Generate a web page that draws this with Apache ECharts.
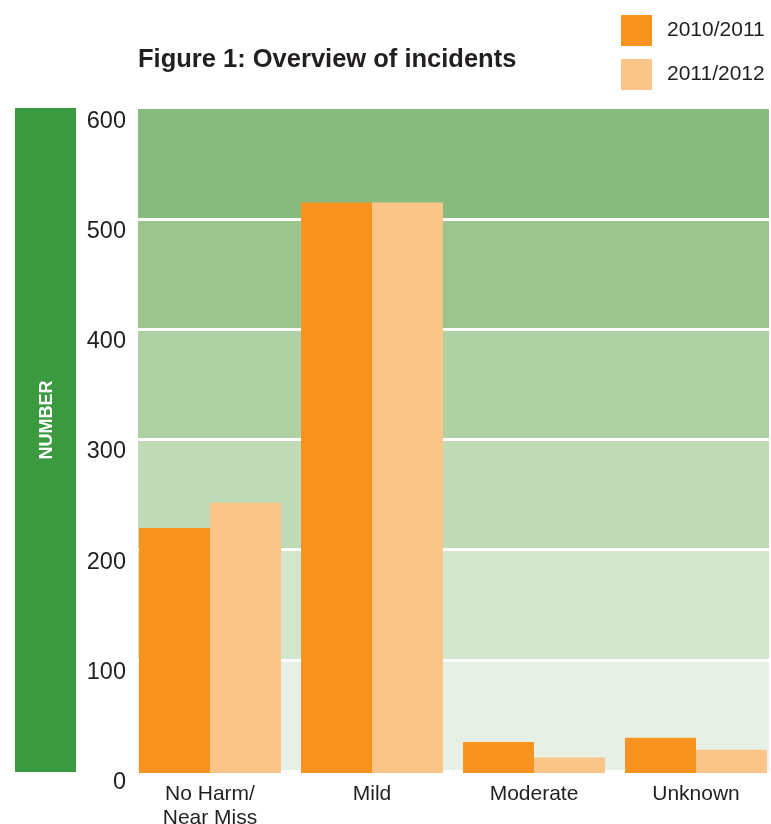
<!DOCTYPE html>
<html>
<head>
<meta charset="utf-8">
<script src="https://cdn.jsdelivr.net/npm/echarts@6/dist/echarts.min.js"></script>
<style>
  html, body { margin: 0; padding: 0; background: #ffffff; }
  #chart { width: 771px; height: 824px; }
</style>
</head>
<body>
<div id="chart"></div>
<script>
// Incident counts by severity, two reporting years
const categories = ['No Harm/\nNear Miss', 'Mild', 'Moderate', 'Unknown'];
const seriesNames = ['2010/2011', '2011/2012'];
const values2010 = [222, 517, 28, 32];
const values2011 = [245, 517, 14, 21];
const yTicks = [0, 100, 200, 300, 400, 500, 600];

// Background band shades, from the 0–100 band upward
const bandColors = ['#e6f0e4', '#d3e5cd', '#c1dbb8', '#afd1a3', '#9cc48e', '#88b97d'];

const FONT = '"Liberation Sans", Arial, Helvetica, sans-serif';
const TEXT = '#231f20';

const chart = echarts.init(document.getElementById('chart'), null, { renderer: 'canvas' });

chart.setOption({
  animation: false,
  backgroundColor: '#ffffff',
  textStyle: { fontFamily: FONT },
  title: {
    text: 'Figure 1: Overview of incidents',
    left: 138,
    top: 47,
    padding: 0,
    textStyle: { fontFamily: FONT, fontSize: 25.5, fontWeight: 'bold', color: TEXT }
  },
  legend: {
    orient: 'vertical',
    left: 621,
    top: 15,
    padding: 0,
    itemWidth: 31,
    itemHeight: 31,
    itemGap: 13,
    icon: 'rect',
    data: seriesNames,
    textStyle: { fontFamily: FONT, fontSize: 21, color: TEXT, padding: [0, 0, 0, 10] }
  },
  graphic: [
    {
      type: 'rect',
      left: 15,
      top: 108,
      shape: { width: 61, height: 664 },
      style: { fill: '#3b9a3f' },
      z: 0
    },
    {
      type: 'text',
      x: 47,
      y: 420,
      rotation: Math.PI / 2,
      style: {
        text: 'NUMBER',
        fill: '#ffffff',
        font: 'bold 18px ' + FONT,
        align: 'center',
        verticalAlign: 'middle'
      },
      z: 1
    }
  ],
  grid: [
    // shaded value bands with the y scale
    { left: 138, right: 2, top: 109, bottom: 54, outerBoundsMode: 'none', containLabel: false },
    // bar groups
    { left: 129, width: 648, top: 111, bottom: 51, outerBoundsMode: 'none', containLabel: false }
  ],
  xAxis: [
    {
      gridIndex: 0, type: 'value', min: 0, max: 1, show: false
    },
    {
      gridIndex: 1,
      type: 'category',
      data: categories,
      axisLine: { show: false },
      axisTick: { show: false },
      axisLabel: {
        margin: 9,
        fontFamily: FONT,
        fontSize: 21,
        lineHeight: 24,
        color: TEXT,
        verticalAlign: 'top'
      }
    }
  ],
  yAxis: [
    {
      gridIndex: 0,
      type: 'value',
      min: yTicks[0],
      max: yTicks[yTicks.length - 1],
      interval: 100,
      axisLine: { show: false },
      axisTick: { show: false },
      axisLabel: {
        margin: 12,
        fontFamily: FONT,
        fontSize: 23.5,
        lineHeight: 23,
        color: TEXT,
        verticalAlign: 'top',
        padding: [1, 0, 0, 0]
      },
      splitArea: { show: true, areaStyle: { color: bandColors, opacity: 1 } },
      splitLine: {
        show: true,
        showMinLine: false,
        showMaxLine: false,
        lineStyle: { color: '#ffffff', width: 3 }
      }
    },
    {
      gridIndex: 1,
      type: 'value',
      min: 0,
      max: 600,
      interval: 100,
      show: false,
      splitLine: { show: false }
    }
  ],
  series: [
    {
      name: seriesNames[0],
      type: 'bar',
      xAxisIndex: 1,
      yAxisIndex: 1,
      data: values2010,
      barGap: '0%',
      barCategoryGap: '12.35%',
      itemStyle: { color: '#f7931e' },
      z: 3
    },
    {
      name: seriesNames[1],
      type: 'bar',
      xAxisIndex: 1,
      yAxisIndex: 1,
      data: values2011,
      barGap: '0%',
      barCategoryGap: '12.35%',
      itemStyle: { color: '#fbc589' },
      z: 3
    }
  ]
});
</script>
</body>
</html>
